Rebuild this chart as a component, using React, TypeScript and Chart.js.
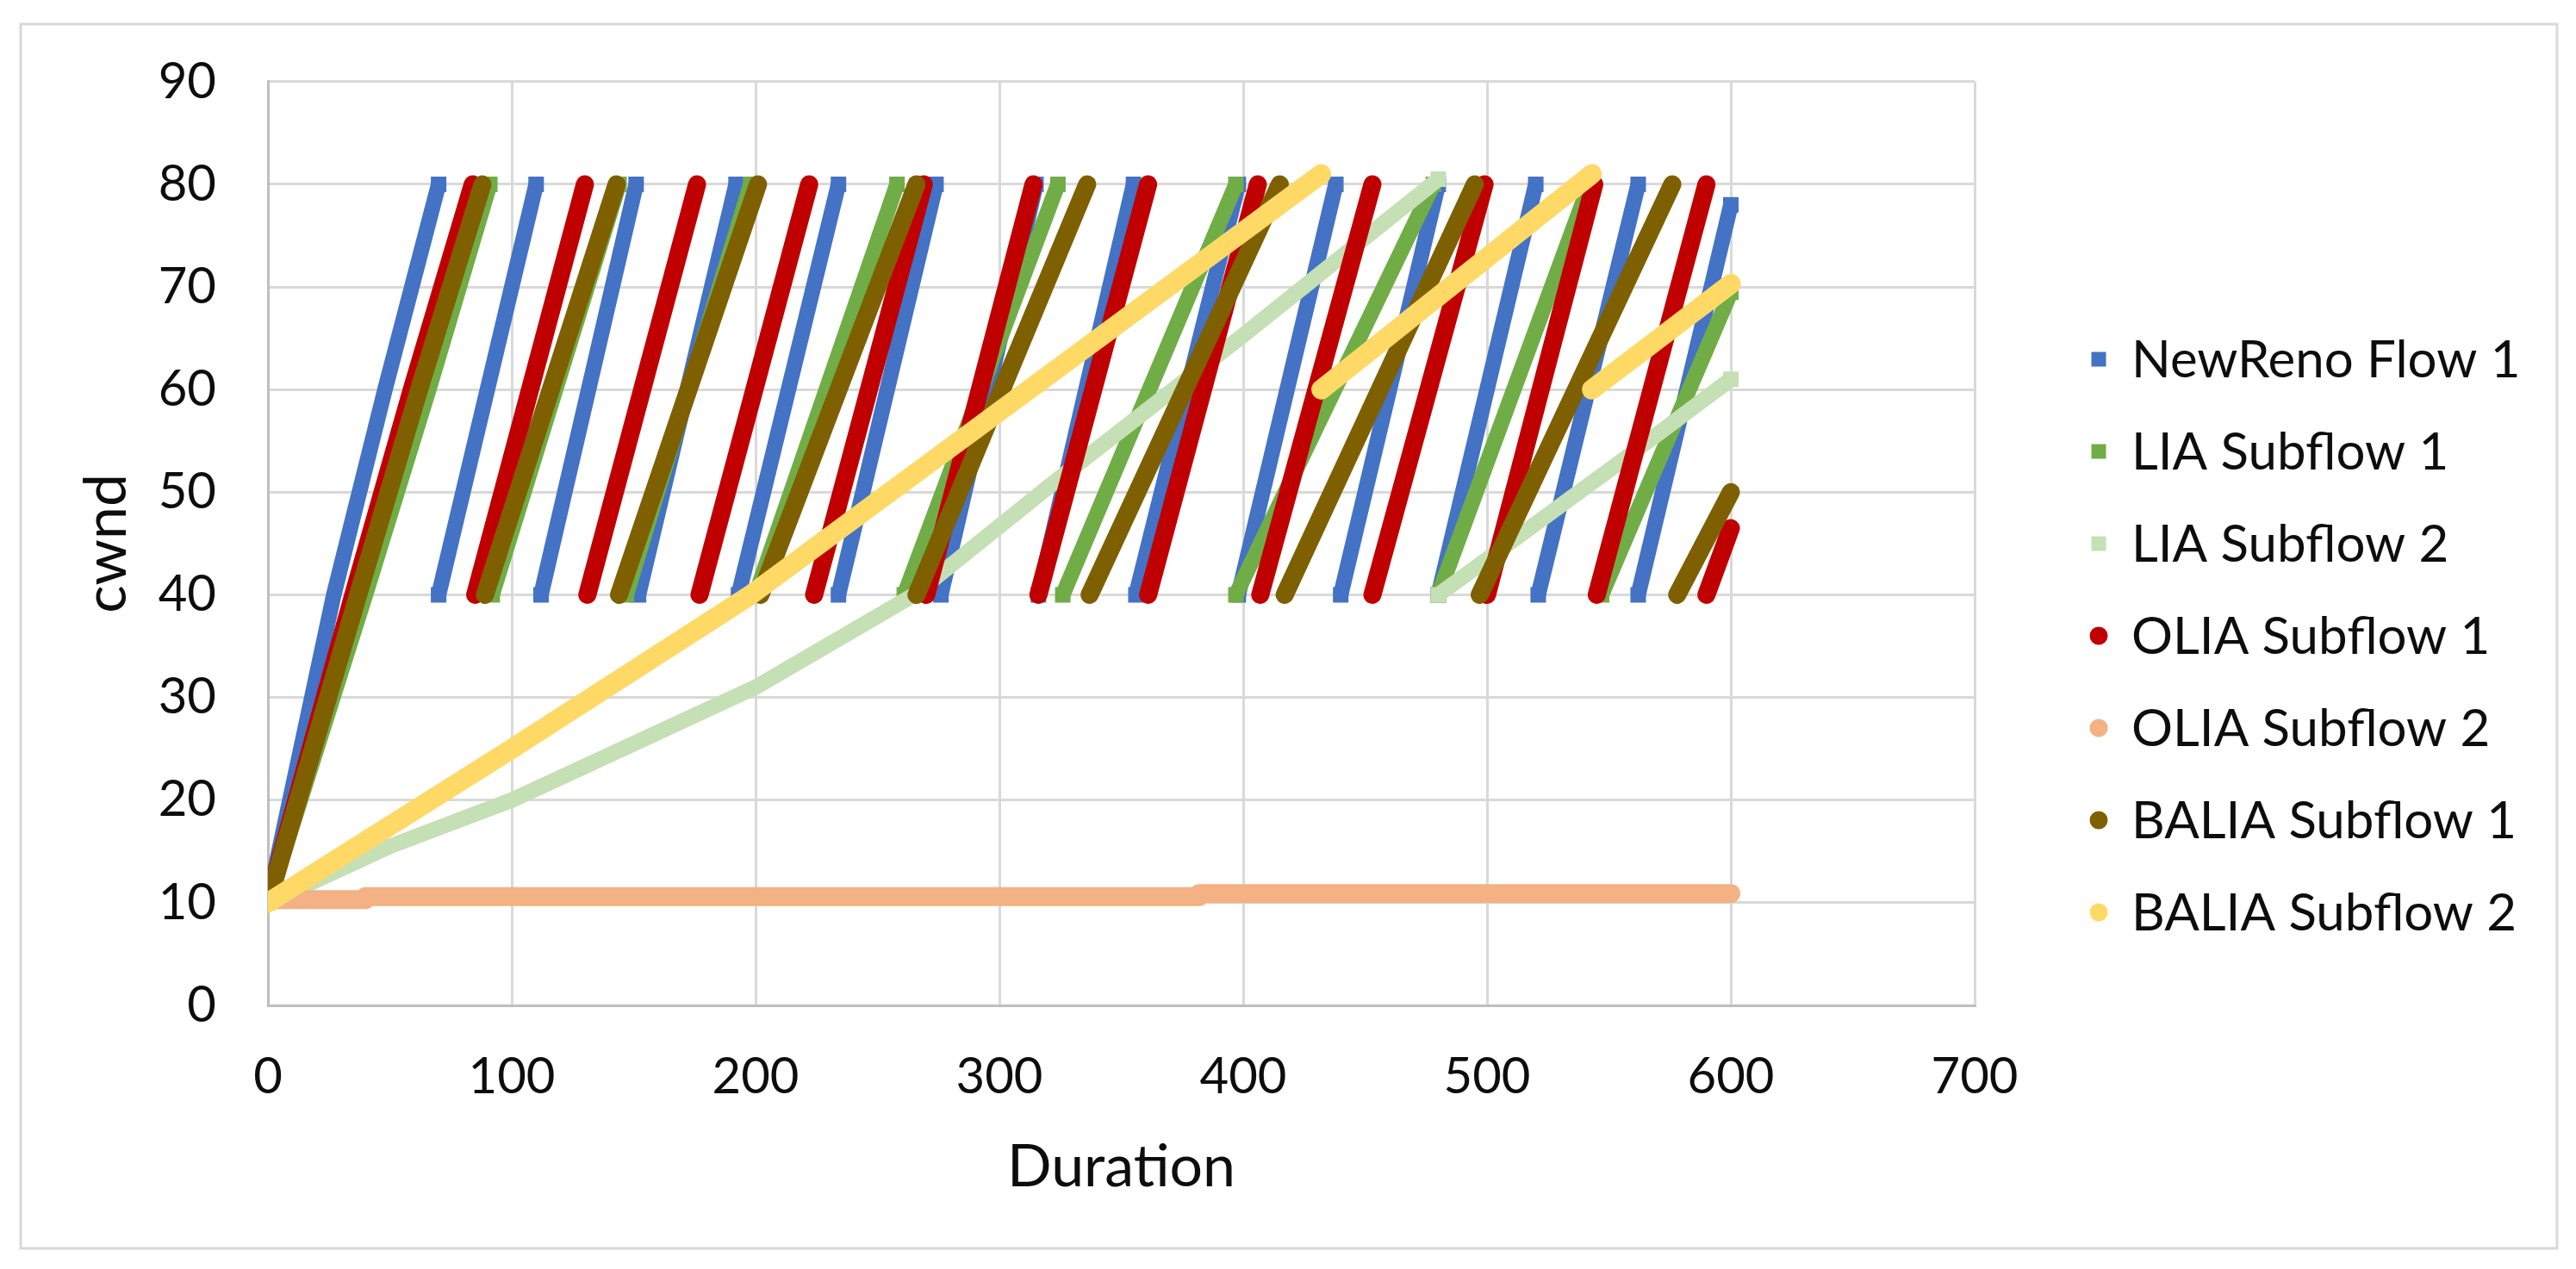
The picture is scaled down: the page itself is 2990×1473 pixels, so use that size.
import React, { useEffect, useRef } from "react";
import { Chart, registerables } from "chart.js";

Chart.register(...registerables);

// tick values of the two axes
const durationTicks = [0, 100, 200, 300, 400, 500, 600, 700];
const cwndTicks = [0, 10, 20, 30, 40, 50, 60, 70, 80, 90];

const seriesNames = [
  "NewReno Flow 1",
  "LIA Subflow 1",
  "LIA Subflow 2",
  "OLIA Subflow 1",
  "OLIA Subflow 2",
  "BALIA Subflow 1",
  "BALIA Subflow 2",
];

// every series is a list of ramps, each ramp a list of [duration, cwnd]
const newRenoFlow1 = [
  [[0, 10], [27, 40], [48, 60], [70, 80]],
  [[70, 40], [110, 80]],
  [[112, 40], [151, 80]],
  [[152, 40], [192, 80]],
  [[193, 40], [234, 80]],
  [[234, 40], [274, 80]],
  [[276, 40], [315, 80]],
  [[316, 40], [355, 80]],
  [[356, 40], [398, 80]],
  [[398, 40], [438, 80]],
  [[440, 40], [480, 80]],
  [[480, 40], [520, 80]],
  [[521, 40], [562, 80]],
  [[562, 40], [600, 78]],
];

const liaSubflow1 = [
  [[0, 10], [40, 40], [66, 60], [91, 80]],
  [[92, 40], [144, 80]],
  [[147, 40], [198, 80]],
  [[200, 40], [258, 80]],
  [[261, 40], [324, 80]],
  [[326, 40], [397, 80]],
  [[397, 40], [478, 80]],
  [[480, 40], [542, 80]],
  [[547, 40], [600, 69.5]],
];

const liaSubflow2 = [
  [[0, 10], [50, 15.5], [100, 20], [150, 25.5], [200, 31], [265, 40], [320, 50.5], [400, 65.3], [480, 80.5]],
  [[480, 40], [555, 53], [600, 61]],
];

const oliaSubflow1 = [
  [[0, 10], [35, 40], [59, 60], [84, 80]],
  [[85, 40], [130, 80]],
  [[131, 40], [176, 80]],
  [[177, 40], [222, 80]],
  [[224, 40], [269, 80]],
  [[270, 40], [314, 80]],
  [[316, 40], [361, 80]],
  [[361, 40], [406, 80]],
  [[407, 40], [453, 80]],
  [[453, 40], [499, 80]],
  [[500, 40], [544, 80]],
  [[545, 40], [590, 80]],
  [[590, 40], [600, 46.5]],
];

const oliaSubflow2 = [
  [[0, 10.3], [40, 10.3]],
  [[40, 10.6], [382, 10.6]],
  [[382, 10.9], [600, 10.9]],
];

const baliaSubflow1 = [
  [[0, 10], [37, 40], [62, 60], [88, 80]],
  [[89, 40], [143, 80]],
  [[144, 40], [201, 80]],
  [[202, 40], [266, 80]],
  [[266, 40], [336, 80]],
  [[337, 40], [415, 80]],
  [[417, 40], [495, 80]],
  [[497, 40], [576, 80]],
  [[578, 40], [600, 50]],
];

const baliaSubflow2 = [
  [[0, 10], [100, 25], [198, 40], [432, 81]],
  [[432, 60], [543, 81]],
  [[543, 60], [600, 70.3]],
];

const seriesData = [
  newRenoFlow1,
  liaSubflow1,
  liaSubflow2,
  oliaSubflow1,
  oliaSubflow2,
  baliaSubflow1,
  baliaSubflow2,
];

const seriesStyle = [
  { color: "#4472C4", marker: "rect", width: 18 },
  { color: "#70AD47", marker: "rect", width: 18 },
  { color: "#C5E0B4", marker: "rect", width: 18 },
  { color: "#C00000", marker: "circle", width: 21 },
  { color: "#F4B183", marker: "circle", width: 22 },
  { color: "#7F6000", marker: "circle", width: 21 },
  { color: "#FFD966", marker: "circle", width: 23 },
];

const FONT = "Lato";
const TEXT = "#0d0d0d";

// ramps joined into one line, broken by a null point between them
const toPoints = (ramps) =>
  ramps.flatMap((ramp, i) => [
    ...(i > 0 ? [{ x: ramp[0][0], y: null }] : []),
    ...ramp.map(([x, y], j) => ({ x, y, end: j === 0 || j === ramp.length - 1 })),
  ]);

// grey frame round the whole chart, like the Excel chart area
const chartFrame = {
  id: "chartFrame",
  beforeDraw(chart) {
    const { ctx } = chart;
    ctx.save();
    ctx.fillStyle = "#ffffff";
    ctx.fillRect(0, 0, chart.width, chart.height);
    ctx.strokeStyle = "#d9d9d9";
    ctx.lineWidth = 3;
    ctx.strokeRect(24, 28, 2944, 1421);
    ctx.restore();
  },
};

// legend at the right, markers like the series markers
const sideLegend = {
  id: "sideLegend",
  afterDraw(chart) {
    const { ctx, chartArea } = chart;
    const x = chartArea.right + 144;
    const rowGap = 107;
    const sets = chart.data.datasets;
    const top = 738 - (rowGap * (sets.length - 1)) / 2;
    ctx.save();
    ctx.font = `60px ${FONT}`;
    ctx.textBaseline = "middle";
    ctx.textAlign = "left";
    sets.forEach((ds, i) => {
      const y = top + i * rowGap;
      ctx.fillStyle = ds.borderColor;
      if (ds.pointStyle === "rect") {
        ctx.fillRect(x - 8.5, y - 8.5, 17, 17);
      } else {
        ctx.beginPath();
        ctx.arc(x, y, 10.5, 0, Math.PI * 2);
        ctx.fill();
      }
      ctx.fillStyle = TEXT;
      ctx.fillText(ds.label, x + 38, y + 2);
    });
    ctx.restore();
  },
};

const App: React.FC = () => {
  const canvasRef = useRef(null);
  const chartRef = useRef(null);

  useEffect(() => {
    document.body.style.margin = "0";
    if (!canvasRef.current) return;
    if (chartRef.current) chartRef.current.destroy();

    const datasets = seriesData.map((ramps, i) => {
      const st = seriesStyle[i];
      const square = st.marker === "rect";
      const r = square ? st.width / Math.SQRT2 : 0;
      return {
        label: seriesNames[i],
        data: toPoints(ramps),
        showLine: true,
        spanGaps: false,
        borderColor: st.color,
        backgroundColor: st.color,
        borderWidth: st.width,
        borderCapStyle: square ? "butt" : "round",
        borderJoinStyle: "round",
        pointStyle: st.marker,
        pointRadius: (c) => (c.raw && c.raw.end ? r : 0),
        pointBorderWidth: 0,
        pointBackgroundColor: st.color,
        tension: 0,
        order: seriesNames.length - i,
      };
    });

    chartRef.current = new Chart(canvasRef.current, {
      type: "scatter",
      data: { datasets },
      options: {
        responsive: false,
        animation: false,
        events: [],
        layout: { padding: { left: 83, top: 89, right: 698, bottom: 77 } },
        plugins: {
          legend: { display: false },
          tooltip: { enabled: false },
        },
        scales: {
          x: {
            type: "linear",
            min: 0,
            max: 700,
            afterBuildTicks: (s) => {
              s.ticks = durationTicks.map((v) => ({ value: v }));
            },
            afterFit: (s) => {
              s.height = 229;
            },
            ticks: { padding: 48, color: TEXT, font: { family: FONT, size: 58 } },
            grid: { color: "#d9d9d9", lineWidth: 3, drawTicks: false },
            border: { color: "#bfbfbf", width: 3 },
            title: {
              display: true,
              text: "Duration",
              color: TEXT,
              padding: 0,
              font: { family: FONT, size: 68 },
            },
          },
          y: {
            type: "linear",
            min: 0,
            max: 90,
            afterBuildTicks: (s) => {
              s.ticks = cwndTicks.map((v) => ({ value: v }));
            },
            afterFit: (s) => {
              s.width = 228;
            },
            ticks: { padding: 60, color: TEXT, font: { family: FONT, size: 58 } },
            grid: { color: "#d9d9d9", lineWidth: 3, drawTicks: false },
            border: { color: "#bfbfbf", width: 3 },
            title: {
              display: true,
              text: "cwnd",
              color: TEXT,
              padding: 0,
              font: { family: FONT, size: 68 },
            },
          },
        },
      },
      plugins: [chartFrame, sideLegend],
    });

    return () => {
      if (chartRef.current) {
        chartRef.current.destroy();
        chartRef.current = null;
      }
    };
  }, []);

  return (
    <div style={{ width: 2990, height: 1473, background: "#fff" }}>
      <canvas ref={canvasRef} width={2990} height={1473} style={{ display: "block" }} />
    </div>
  );
};

export default App;
